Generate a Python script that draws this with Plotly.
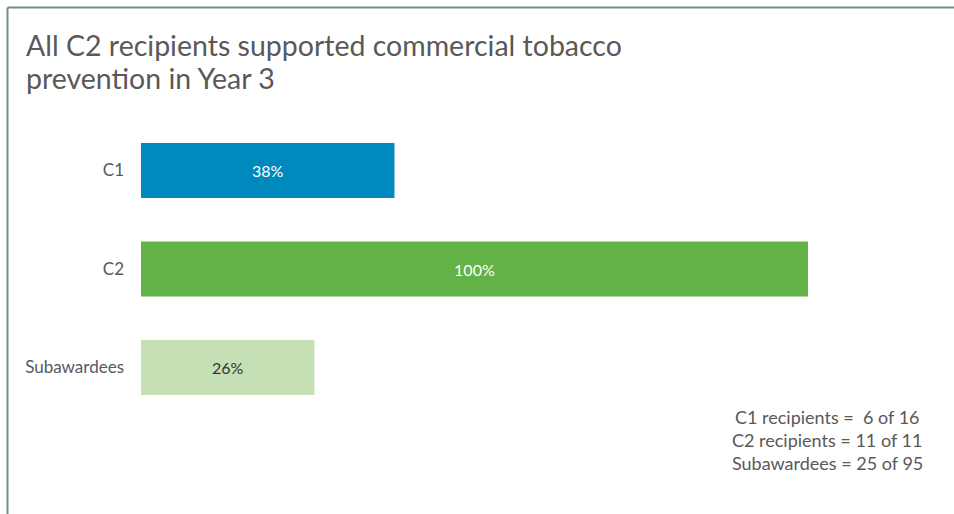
import plotly.graph_objects as go

# Share of recipients supporting commercial tobacco prevention, Year 3
categories = ["C1", "C2", "Subawardees"]
percent = [38, 100, 26]
bar_colors = ["#0089BC", "#63B247", "#C5E0B4"]
label_colors = ["#FFFFFF", "#FFFFFF", "#333333"]
title_lines = ["All C2 recipients supported commercial tobacco", "prevention in Year 3"]
counts_note = [
    "C1 recipients =  6 of 16",
    "C2 recipients = 11 of 11",
    "Subawardees = 25 of 95",
]

W, H = 954, 514
font_family = "Lato, 'Open Sans', sans-serif"
grey = "#595959"

fig = go.Figure()
fig.add_trace(go.Bar(
    y=categories,
    x=percent,
    orientation="h",
    marker=dict(color=bar_colors, line=dict(width=0)),
    text=[f"{v}%" for v in percent],
    textposition="inside",
    insidetextanchor="middle",
    textfont=dict(family=font_family, size=16, color=label_colors),
    hoverinfo="skip",
    width=0.56,
))

# plot area: x 141..808 px, y 121..417 px
x0, x1 = 141, 808
y_top, y_bot = 121.25, 416.75
fig.update_layout(
    width=W, height=H,
    paper_bgcolor="white", plot_bgcolor="white",
    margin=dict(l=0, r=0, t=0, b=0),
    showlegend=False,
    xaxis=dict(domain=[x0 / W, x1 / W], range=[0, 100], visible=False, fixedrange=True),
    yaxis=dict(domain=[1 - y_bot / H, 1 - y_top / H], range=[2.5, -0.5],
               showgrid=False, zeroline=False, showline=False, ticks="",
               tickfont=dict(family=font_family, size=17, color=grey),
               ticklabelstandoff=16, fixedrange=True),
    font=dict(family=font_family, color=grey),
)

# frame lines along the top and left edges
fig.add_shape(type="line", xref="paper", yref="paper",
              x0=7.5 / W, x1=1.01, y0=1 - 7.5 / H, y1=1 - 7.5 / H,
              line=dict(color="#6E8F82", width=2))
fig.add_shape(type="line", xref="paper", yref="paper",
              x0=7.5 / W, x1=7.5 / W, y0=1 - 7.5 / H, y1=-0.01,
              line=dict(color="#6E8F82", width=2))

# title, two lines
for i, line in enumerate(title_lines):
    fig.add_annotation(
        xref="paper", yref="paper", x=24 / W, y=1 - (45 + 33 * i) / H,
        xanchor="left", yanchor="middle", align="left", showarrow=False,
        text=line,
        font=dict(family=font_family, size=28.5, color=grey),
    )

# recipient counts
for i, line in enumerate(counts_note):
    fig.add_annotation(
        xref="paper", yref="paper", x=827 / W, y=1 - (417 + 23 * i) / H,
        xanchor="center", yanchor="middle", showarrow=False,
        text=line,
        font=dict(family=font_family, size=18, color=grey),
    )

fig.write_html("out.html")
